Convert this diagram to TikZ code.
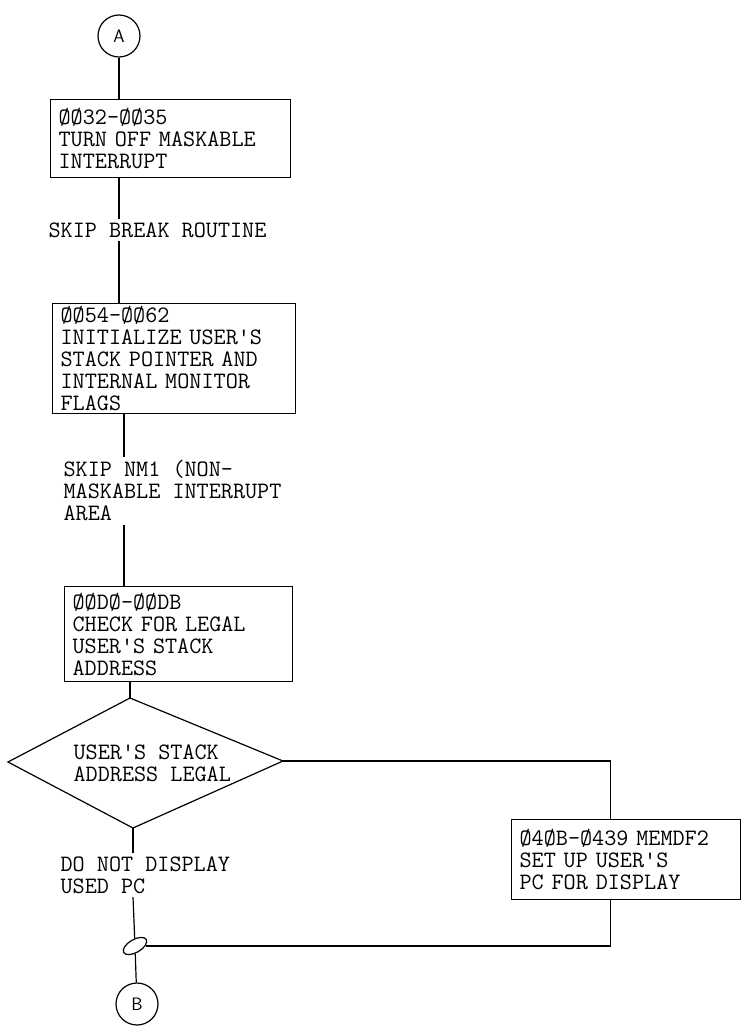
\documentclass[tikz,border=0pt]{standalone}
\usepackage{fontspec}
\usetikzlibrary{shapes.geometric, positioning}

\newcommand{\flowfont}{\fontsize{23.5}{22}\selectfont\ttfamily}

\begin{document}
\begin{tikzpicture}[x=1pt, y=-1pt, line width=1.2pt,
    procbox/.style={rectangle, draw, anchor=north west, align=left, inner xsep=8pt, inner ysep=0pt, font=\flowfont},
    flowlabel/.style={anchor=north west, align=left, inner xsep=1pt, inner ysep=3pt, font=\flowfont},
    connector/.style={circle, draw, minimum size=42pt, inner sep=0pt, font=\fontsize{18}{18}\selectfont\sffamily},
    junction/.style={ellipse, draw, minimum width=26pt, minimum height=13pt, inner sep=0pt, rotate=30}
]
\useasboundingbox (0,0) rectangle (743,1030);

\node[connector] (A) at (119,36) {A};
\node[procbox, minimum height=78pt, text width=224pt] (maskoff) at (50,99) {ØØ32-ØØ35\\TURN OFF MASKABLE\\INTERRUPT};
\node[flowlabel] (skipbrk) at (47,219) {SKIP BREAK ROUTINE};
\node[procbox, minimum height=110pt, text width=227pt] (stackinit) at (52,303) {ØØ54-ØØ62\\INITIALIZE USER'S\\STACK POINTER AND\\INTERNAL MONITOR\\FLAGS};
\node[flowlabel] (skipnmi) at (62,457) {SKIP NM1 (NON-\\MASKABLE INTERRUPT\\AREA};
\node[procbox, minimum height=95pt, text width=212pt] (chklegal) at (64,586) {ØØDØ-ØØDB\\CHECK FOR LEGAL\\USER'S STACK\\ADDRESS};

% decision
\coordinate (qtop) at (130,698);
\coordinate (qright) at (283,761);
\coordinate (qbot) at (133,828);
\coordinate (qleft) at (8,762);
\draw (qtop) -- (qright) -- (qbot) -- (qleft) -- cycle;
\node[font=\flowfont, align=left, anchor=west, inner sep=1pt] (qtext) at (72,763) {USER'S STACK\\ADDRESS LEGAL};

\node[procbox, minimum height=80pt, text width=213pt] (memdf) at (511,819) {Ø4ØB-Ø439 MEMDF2\\SET UP USER'S\\PC FOR DISPLAY};
\node[flowlabel] (nodisp) at (59,853) {DO NOT DISPLAY\\USED PC};
\node[junction] (join) at (135,946) {};
\node[connector] (B) at (137,1004) {B};

\coordinate (nmicol) at (124,0);

\draw (A) -- (A |- maskoff.north);
\draw (maskoff.south -| A) -- (skipbrk.north -| A);
\draw (skipbrk.south -| A) -- (stackinit.north -| A);
\draw (stackinit.south -| nmicol) -- (skipnmi.north -| nmicol);
\draw (skipnmi.south -| nmicol) -- (chklegal.north -| nmicol);
\draw (chklegal.south -| qtop) -- (qtop);
\draw (qright) -| ([xshift=-16pt]memdf.north);
\draw (qbot) -- (qbot |- nodisp.north);
\draw (nodisp.south -| qbot) -- (join);
\draw ([xshift=-16pt]memdf.south) |- (join);
\draw (join) -- (B);
\end{tikzpicture}
\end{document}
